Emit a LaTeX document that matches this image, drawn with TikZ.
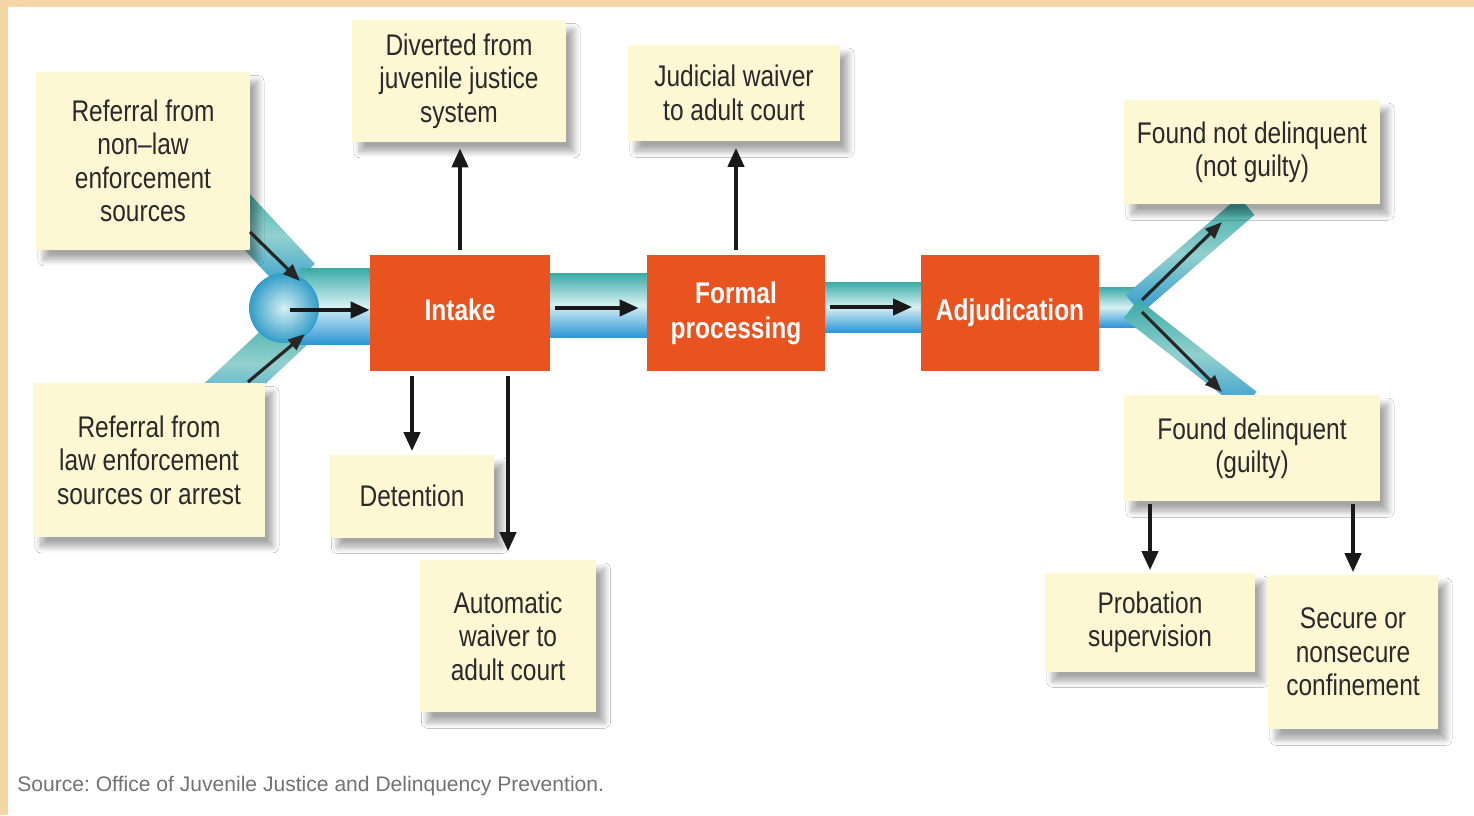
\documentclass[tikz,border=0pt]{standalone}
\usepackage{fontspec}
\setmainfont{Liberation Sans}[FakeStretch=0.82]
\newfontfamily\sourcefont{Liberation Sans}
\usetikzlibrary{arrows.meta,shadows.blur}

\definecolor{framebg}{HTML}{F3D6A8}
\definecolor{notebg}{HTML}{FDF7D3}
\definecolor{stagebg}{HTML}{E9531F}
\definecolor{pipetop}{HTML}{3AAAA6}
\definecolor{pipemid}{HTML}{D6F0F3}
\definecolor{pipebot}{HTML}{2D96D6}
\definecolor{inktext}{HTML}{2A2A2A}

\tikzset{
  note/.style={fill=notebg, text=inktext, align=center, inner sep=0pt,
    font=\fontsize{17}{19}\selectfont,
    blur shadow={shadow xshift=4.5pt, shadow yshift=-5.5pt, shadow blur radius=3.5pt,
      shadow blur steps=12, shadow opacity=35}},
  stage/.style={fill=stagebg, text=white, align=center, inner sep=0pt,
    font=\fontsize{17}{20}\selectfont\bfseries, minimum height=2.32cm},
  flow/.style={draw=black!90, line width=2.3pt, -{Triangle[length=0.38cm,width=0.32cm]}},
  pipeflow/.style={draw=black!85, line width=1.8pt, -{Triangle[length=0.34cm,width=0.26cm]}},
  pipe/.style={top color=pipetop, bottom color=pipebot, middle color=pipemid},
  slantpipe/.style={top color=pipetop, bottom color=pipebot!85!pipetop, middle color=pipetop!55!white},
}

\begin{document}
\begin{tikzpicture}[x=0.02cm, y=-0.02cm]
  \useasboundingbox (0,0) rectangle (1474,815);
  \fill[white] (0,0) rectangle (1474,815);
  \fill[framebg] (0,0) rectangle (1474,7);
  \fill[framebg] (0,0) rectangle (8,815);

  % pipes
  \begin{scope}[shift={(262,238)}, rotate=-47]
    \shade[slantpipe] (-60,-21) rectangle (55,21);
  \end{scope}
  \begin{scope}[shift={(258,362)}, rotate=43]
    \shade[slantpipe] (-60,-21) rectangle (55,21);
  \end{scope}
  \shade[pipe] (300,268) rectangle (372,344);
  \shade[inner color=pipemid, outer color=pipebot!70!pipetop] (284,308) circle[radius=0.7cm];
  \shade[pipe] (548,273) rectangle (648,337);
  \shade[pipe] (823,282) rectangle (923,332);
  \shade[pipe] (1098,287) rectangle (1142,327);
  \begin{scope}[shift={(1190,255)}, rotate=41]
    \shade[slantpipe] (-75,-12) rectangle (75,12);
  \end{scope}
  \begin{scope}[shift={(1190,355)}, rotate=-38]
    \shade[slantpipe] (-75,-12) rectangle (75,12);
  \end{scope}

  % boxes
  \node[note, minimum width=4.28cm, minimum height=3.56cm] (nonlaw) at (143,161)
    {Referral from\\non--law\\enforcement\\sources};
  \node[note, minimum width=4.64cm, minimum height=3.08cm] (lawref) at (149,460)
    {Referral from\\law enforcement\\sources or arrest};
  \node[note, minimum width=4.28cm, minimum height=2.44cm] (diverted) at (459,81)
    {Diverted from\\juvenile justice\\system};
  \node[note, minimum width=4.24cm, minimum height=1.94cm] (judicial) at (734,93)
    {Judicial waiver\\to adult court};
  \node[note, minimum width=5.12cm, minimum height=2.1cm] (notguilty) at (1252,152)
    {Found not delinquent\\(not guilty)};
  \node[note, minimum width=5.12cm, minimum height=2.14cm] (guilty) at (1252,448)
    {Found delinquent\\(guilty)};
  \node[note, minimum width=3.3cm, minimum height=1.66cm] (detention) at (412,496)
    {Detention};
  \node[note, minimum width=3.54cm, minimum height=3.06cm] (autowaiver) at (508,636)
    {Automatic\\waiver to\\adult court};
  \node[note, minimum width=4.2cm, minimum height=1.98cm] (probation) at (1150,622)
    {Probation\\supervision};
  \node[note, minimum width=3.4cm, minimum height=3.1cm] (secure) at (1353,652)
    {Secure or\\nonsecure\\confinement};

  \node[stage, minimum width=3.6cm] (intake) at (460,313) {Intake\vphantom{g}};
  \node[stage, minimum width=3.56cm] (formal) at (736,313) {Formal\\processing};
  \node[stage, minimum width=3.58cm] (adjud) at (1010,313) {Adjudication};

  \node[anchor=west, text=black!55, inner sep=0pt, font=\sourcefont\fontsize{12}{14}\selectfont] (source)
    at (17,786) {Source:\ Office of Juvenile Justice and Delinquency Prevention.};

  % flows in the pipes
  \coordinate (hub) at (290,310);
  \coordinate (intop) at (250,232);
  \coordinate (inbot) at (248,382);
  \coordinate (fork) at (1142,300);
  \coordinate (forklow) at (1142,312);
  \coordinate (uptip) at (1222,222);
  \coordinate (downtip) at (1222,392);
  \draw[pipeflow] (intop) -- (300,281);
  \draw[pipeflow] (inbot) -- (305,334);
  \draw[flow] (hub) -- (intake.west |- hub);
  \draw[flow, shorten <=0.1cm, shorten >=0.16cm] (intake.east |- 0,308) -- (formal.west |- 0,308);
  \draw[flow, shorten <=0.1cm, shorten >=0.16cm] (formal.east |- 0,307) -- (adjud.west |- 0,307);
  \draw[pipeflow] (fork) -- (uptip);
  \draw[pipeflow] (forklow) -- (downtip);

  % flows between boxes
  \draw[flow, shorten <=0.1cm, shorten >=0.12cm] (intake.north) -- (intake.north |- diverted.south);
  \draw[flow, shorten <=0.1cm, shorten >=0.12cm] (formal.north) -- (formal.north |- judicial.south);
  \draw[flow, shorten <=0.1cm, shorten >=0.06cm] (intake.south -| detention.north) -- (detention.north);
  \draw[flow, shorten <=0.1cm, shorten >=0.16cm] (intake.south -| autowaiver.north) -- (autowaiver.north);
  \draw[flow, shorten <=0.04cm, shorten >=0.04cm] (guilty.south -| probation.north) -- (probation.north);
  \draw[flow, shorten <=0.04cm, shorten >=0.04cm] (guilty.south -| secure.north) -- (secure.north);
\end{tikzpicture}
\end{document}
